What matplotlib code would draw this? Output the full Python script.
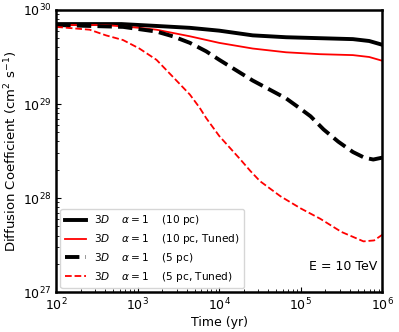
import matplotlib
matplotlib.use('Agg')
import matplotlib.pyplot as plt

# values (log10 of time in yr, log10 of D in cm^2/s)
t_10pc = [2.0, 2.8, 3.23, 3.64, 4.0, 4.41, 4.82, 5.23, 5.64, 5.84, 6.0]
d_10pc = [29.85, 29.85, 29.83, 29.81, 29.78, 29.73, 29.71, 29.70, 29.69, 29.67, 29.63]

t_10pc_tuned = [2.0, 2.6, 3.02, 3.23, 3.64, 4.0, 4.41, 4.82, 5.23, 5.64, 5.84, 6.0]
d_10pc_tuned = [29.84, 29.84, 29.81, 29.79, 29.72, 29.65, 29.59, 29.55, 29.53, 29.52, 29.50, 29.46]

t_5pc = [2.0, 2.82, 3.23, 3.43, 3.64, 3.84, 4.0, 4.41, 4.82, 4.98, 5.12, 5.28, 5.46,
         5.64, 5.78, 5.89, 6.0]
d_5pc = [29.84, 29.82, 29.77, 29.72, 29.65, 29.56, 29.47, 29.25, 29.06, 28.96, 28.87,
         28.73, 28.60, 28.49, 28.43, 28.41, 28.43]

t_5pc_tuned = [2.0, 2.41, 2.61, 2.82, 3.02, 3.23, 3.43, 3.64, 3.76, 3.84, 4.0, 4.26,
               4.38, 4.5, 4.75, 5.0, 5.24, 5.5, 5.77, 5.9, 6.0]
d_5pc_tuned = [29.82, 29.79, 29.73, 29.68, 29.59, 29.47, 29.29, 29.10, 28.96, 28.85,
               28.66, 28.41, 28.29, 28.18, 28.02, 27.89, 27.78, 27.64, 27.54, 27.55,
               27.61]

labels = [r'$3D$    $\alpha = 1$    (10 pc)',
          r'$3D$    $\alpha = 1$    (10 pc, Tuned)',
          r'$3D$    $\alpha = 1$    (5 pc)',
          r'$3D$    $\alpha = 1$    (5 pc, Tuned)']


def main() -> None:
    plt.rcParams['font.size'] = 9
    fig, ax = plt.subplots(figsize=(3.99, 3.32), dpi=100)

    series = [(t_10pc, d_10pc, 'k', '-', 2.8),
              (t_10pc_tuned, d_10pc_tuned, 'r', '-', 1.3),
              (t_5pc, d_5pc, 'k', '--', 2.8),
              (t_5pc_tuned, d_5pc_tuned, 'r', '--', 1.3)]
    for (ts, ds, color, ls, lw), label in zip(series, labels):
        xs = [10 ** v for v in ts]
        ys = [10 ** v for v in ds]
        ax.plot(xs, ys, color=color, linestyle=ls, linewidth=lw, label=label)

    ax.set_xscale('log')
    ax.set_yscale('log')
    ax.set_xlim(1e2, 1e6)
    ax.set_ylim(1e27, 1e30)
    ax.set_xlabel('Time (yr)', fontsize=9, labelpad=2)
    ax.set_ylabel(r'Diffusion Coefficient (cm$^2$ s$^{-1}$)', fontsize=9.5,
                  labelpad=2)
    ax.tick_params(which='both', direction='in', labelsize=9)
    for spine in ax.spines.values():
        spine.set_linewidth(1.8)

    ax.text(0.88, 0.09, 'E = 10 TeV', transform=ax.transAxes,
            ha='center', va='center', fontsize=9)
    ax.legend(loc='lower left', fontsize=7.6, borderaxespad=0.4,
              labelspacing=0.45)

    fig.subplots_adjust(left=0.141, right=0.958, top=0.97, bottom=0.12)
    fig.savefig('out.png', dpi=100)


if __name__ == '__main__':
    main()
